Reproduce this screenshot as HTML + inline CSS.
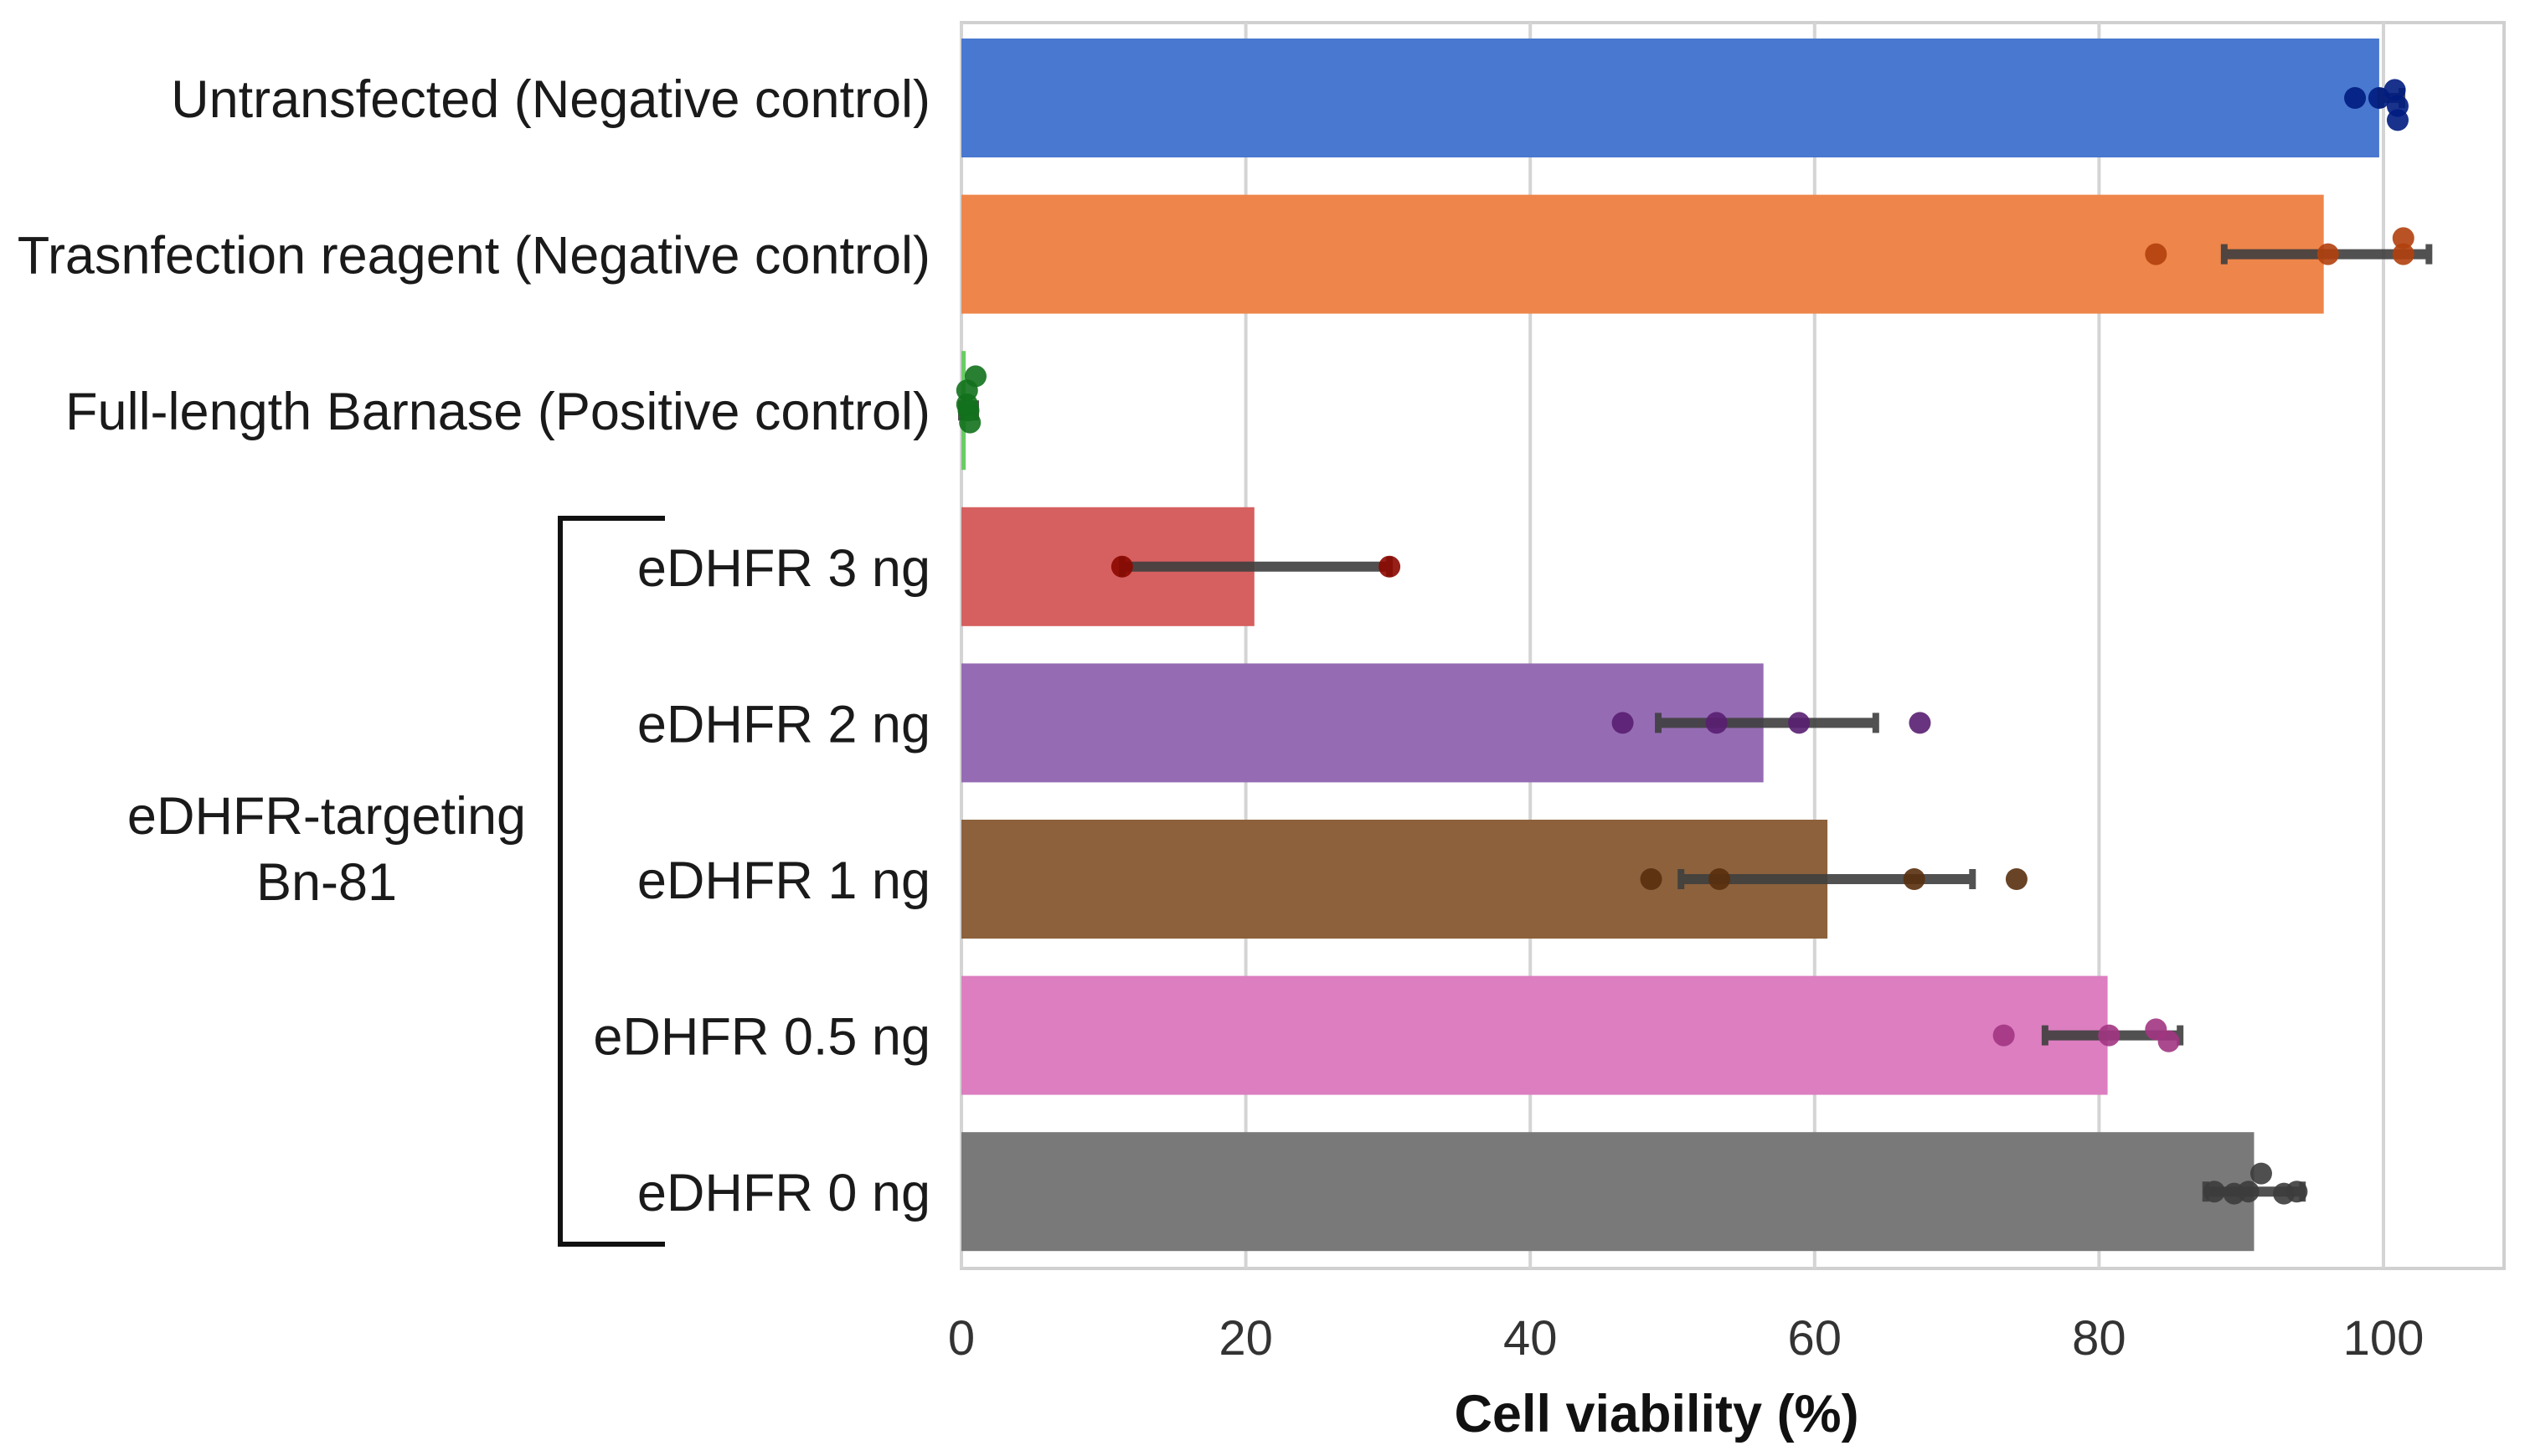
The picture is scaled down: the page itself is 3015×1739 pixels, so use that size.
<!DOCTYPE html>
<html><head><meta charset="utf-8"><style>
html,body{margin:0;padding:0;background:#fff;}
svg{display:block;font-family:"Liberation Sans",sans-serif;}
</style></head><body>
<svg id="chart" width="3015" height="1739" viewBox="0 0 3015 1739" xmlns="http://www.w3.org/2000/svg"></svg>
<script>
const categories = ["Untransfected (Negative control)","Trasnfection reagent (Negative control)","Full-length Barnase (Positive control)","eDHFR 3 ng","eDHFR 2 ng","eDHFR 1 ng","eDHFR 0.5 ng","eDHFR 0 ng"];
const means = [99.7, 95.8, 0.3, 20.6, 56.4, 60.9, 80.6, 90.9];
const errLow = [99.8, 88.8, 0, 11.3, 49.0, 50.6, 76.2, 87.5];
const errHigh = [101.3, 103.2, 1.0, 30.1, 64.3, 71.1, 85.7, 94.3];
const points = [
  [98.0, 99.7, 100.8, 101.0, 101.0],
  [84.0, 96.1, 101.4, 101.4],
  [1.0, 0.4, 0.5, 0.6, 0.4],
  [11.3, 30.1],
  [46.5, 53.1, 58.9, 67.4],
  [48.5, 53.3, 67.0, 74.2],
  [73.3, 80.7, 84.0, 84.9],
  [88.1, 89.5, 90.5, 91.4, 93.0, 93.9]
];
const jitter = [
  [-3, 0, -0.08, 0.08, 0.22],
  [0, 0, -0.16, 0],
  [-0.34, -0.2, 0, 0.12, -0.06],
  [0, 0],
  [0, 0, 0, 0],
  [0, 0, 0, 0],
  [0, 0, -0.06, 0.06],
  [0, 0.02, 0, -0.18, 0.02, 0]
];
const xTicks = [0, 20, 40, 60, 80, 100];
const barColors = ["#4878cf","#ee854a","#6acc64","#d65f5f","#956cb4","#8c613c","#dc7ec0","#797979"];
const dotColors = ["#001c7f","#b1400d","#12711c","#8c0800","#591e71","#592f0d","#a23582","#3c3c3c"];

const svg = document.getElementById('chart');
const NS = "http://www.w3.org/2000/svg";
const L = 1148, R = 2990, T = 27, B = 1515;
const x = v => L + v * 16.98;
const rowStep = 186.6, row0 = 117, barH = 142;
const y = i => row0 + i * rowStep;
function mk(tag, attrs, parent) { const e = document.createElementNS(NS, tag); for (const k in attrs) e.setAttribute(k, attrs[k]); (parent || svg).appendChild(e); return e; }

const frame = mk('rect', {x: L, y: T, width: R - L, height: B - T, fill: 'none', stroke: '#d0d0d0', 'stroke-width': 4});


xTicks.forEach(t => {
  const g = mk('line', {x1: x(t), x2: x(t), y1: T, y2: B, stroke: '#d4d4d4', 'stroke-width': 4});
  
  
  const tl = mk('text', {x: x(t), y: 1618, 'font-size': 58, fill: '#333', 'text-anchor': 'middle'});
  tl.textContent = t;
  
  
});
categories.forEach((c, i) => {
  const cy = y(i);
  const b = mk('rect', {x: x(0), y: cy - barH / 2, width: Math.max(x(means[i]) - x(0), 2), height: barH, fill: barColors[i]});
  
  
  const lab = mk('text', {x: 1111, y: cy + 23, 'font-size': 63, fill: '#1a1a1a', 'text-anchor': 'end'});
  lab.textContent = c;
  
  
  const eg = mk('g', {stroke: '#3f3f3f', 'stroke-width': 12, opacity: 0.9});
  
  
  mk('line', {x1: x(errLow[i]), x2: x(errHigh[i]), y1: cy, y2: cy}, eg);
  mk('line', {x1: x(errLow[i]), x2: x(errLow[i]), y1: cy - 12, y2: cy + 12, 'stroke-width': 8}, eg);
  mk('line', {x1: x(errHigh[i]), x2: x(errHigh[i]), y1: cy - 12, y2: cy + 12, 'stroke-width': 8}, eg);
  points[i].forEach((p, j) => {
    let off = jitter[i][j];
    if (Math.abs(off) > 1) off = 0;
    const d = mk('circle', {cx: x(p), cy: cy + off * 120, r: 13, fill: dotColors[i], opacity: 0.9});
    
    
  });
});
const br = mk('path', {d: 'M794 619 H669 V1486 H794', fill: 'none', stroke: '#111', 'stroke-width': 6});


const g1 = mk('text', {x: 390, y: 996, 'font-size': 63, fill: '#1a1a1a', 'text-anchor': 'middle'});
g1.textContent = 'eDHFR-targeting';


const g2 = mk('text', {x: 390, y: 1075, 'font-size': 63, fill: '#1a1a1a', 'text-anchor': 'middle'});
g2.textContent = 'Bn-81';


const xt = mk('text', {x: 1978, y: 1710, 'font-size': 63, 'font-weight': 'bold', fill: '#111', 'text-anchor': 'middle'});
xt.textContent = 'Cell viability (%)';


</script>
</body></html>
